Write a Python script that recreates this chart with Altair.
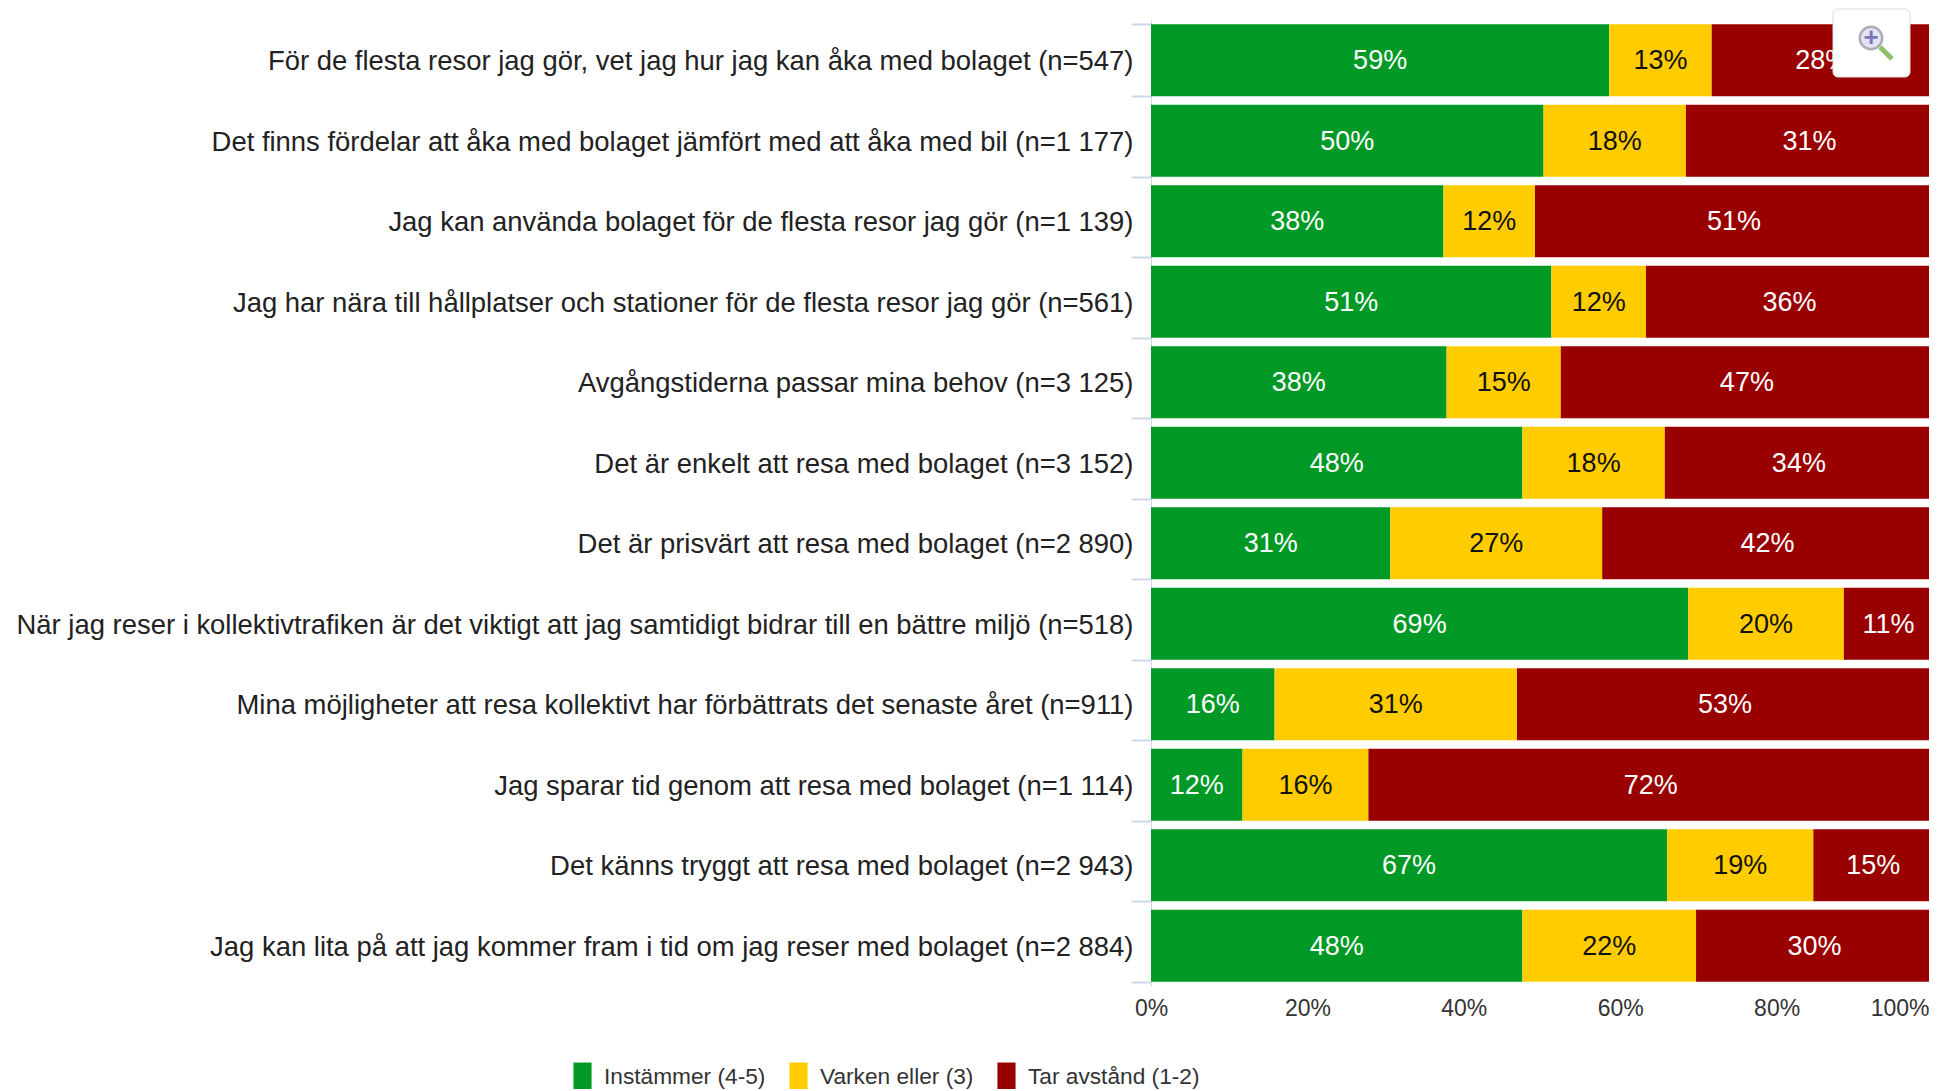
import altair as alt
import pandas as pd

labels = [
    "För de flesta resor jag gör, vet jag hur jag kan åka med bolaget (n=547)",
    "Det finns fördelar att åka med bolaget jämfört med att åka med bil (n=1 177)",
    "Jag kan använda bolaget för de flesta resor jag gör (n=1 139)",
    "Jag har nära till hållplatser och stationer för de flesta resor jag gör (n=561)",
    "Avgångstiderna passar mina behov (n=3 125)",
    "Det är enkelt att resa med bolaget (n=3 152)",
    "Det är prisvärt att resa med bolaget (n=2 890)",
    "När jag reser i kollektivtrafiken är det viktigt att jag samtidigt bidrar till en bättre miljö (n=518)",
    "Mina möjligheter att resa kollektivt har förbättrats det senaste året (n=911)",
    "Jag sparar tid genom att resa med bolaget (n=1 114)",
    "Det känns tryggt att resa med bolaget (n=2 943)",
    "Jag kan lita på att jag kommer fram i tid om jag reser med bolaget (n=2 884)",
]
green = [58.6, 50.2, 37.4, 51.2, 37.8, 47.5, 30.6, 68.7, 15.8, 11.7, 66.0, 47.5]
yellow = [13.1, 18.2, 11.7, 12.1, 14.6, 18.2, 27.1, 19.9, 31.0, 16.1, 18.7, 22.2]
red = [28.3, 31.6, 50.9, 36.7, 47.6, 34.3, 42.3, 11.4, 53.2, 72.2, 15.3, 30.3]
green_txt = [59, 50, 38, 51, 38, 48, 31, 69, 16, 12, 67, 48]
yellow_txt = [13, 18, 12, 12, 15, 18, 27, 20, 31, 16, 19, 22]
red_txt = [28, 31, 51, 36, 47, 34, 42, 11, 53, 72, 15, 30]
series = ["Instämmer (4-5)", "Varken eller (3)", "Tar avstånd (1-2)"]
colors = ["#009926", "#ffcc00", "#990000"]
text_colors = ["#ffffff", "#111111", "#ffffff"]
x_ticks = [0, 20, 40, 60, 80, 100]

rows = []
for i, lab in enumerate(labels):
    start = 0.0
    for s, vals, txt in zip(series, (green, yellow, red), (green_txt, yellow_txt, red_txt)):
        end = start + vals[i]
        rows.append({"label": lab, "series": s, "start": start, "end": end,
                     "mid": (start + end) / 2, "txt": f"{txt[i]}%"})
        start = end
df = pd.DataFrame(rows)

FONT = "Liberation Sans"
y = alt.Y("label:N", sort=labels, title=None,
          scale=alt.Scale(paddingInner=0.105, paddingOuter=0.0525),
          axis=alt.Axis(labelFont=FONT, labelFontSize=27.45, labelColor="#222222", labelLimit=1300,
                        domainColor="#ccd6eb", tickColor="#ccd6eb", tickBand="extent",
                        tickSize=20, tickWidth=2, labelPadding=-2, labelOverlap=False,
                        labelOffset=1.5))
x = alt.X("start:Q", title=None,
          scale=alt.Scale(domain=[0, 100], nice=False),
          axis=alt.Axis(values=x_ticks, labelExpr="datum.value + '%'", grid=False, ticks=False,
                        domain=False, labelFont=FONT, labelFontSize=23, labelColor="#333333",
                        labelPadding=11, labelOverlap=False,
                        labelOffset=alt.expr("datum.value == 100 ? -4 : 0"),
                        labelAlign=alt.expr("datum.value == 100 ? 'right' : 'center'")))

bars = alt.Chart(df).mark_bar(strokeWidth=0).encode(
    y=y, x=x, x2="end:Q",
    color=alt.Color("series:N", sort=series, title=None,
                    scale=alt.Scale(domain=series, range=colors),
                    legend=alt.Legend(orient="none", legendX=-583, legendY=1042, padding=0,
                                      direction="horizontal", columns=3,
                                      symbolType="M-0.64,-1H0.64V1H-0.64Z", symbolSize=800,
                                      symbolStrokeWidth=0, labelFont=FONT, labelFontSize=22.7,
                                      labelLimit=300,
                                      labelColor="#333333", labelOffset=7, columnPadding=18)),
)
text = alt.Chart(df).mark_text(font=FONT, fontSize=27, baseline="middle", align="center", dy=1).encode(
    y=alt.Y("label:N", sort=labels),
    x=alt.X("mid:Q"),
    text="txt:N",
    color=alt.Color("series:N", scale=alt.Scale(domain=series, range=text_colors), legend=None),
)

# zoom button
button_df = pd.DataFrame({"k": [1]})
button = alt.Chart(button_df).mark_rect(fill="#ffffff", stroke="#dddddd", cornerRadius=5).encode(
    x=alt.value(682), x2=alt.value(759), y=alt.value(-11), y2=alt.value(57))
lens = alt.Chart(button_df).mark_point(shape="circle", size=500, filled=True, fill="#d9d9ee",
                                       stroke="#8a8a99", strokeWidth=2.5).encode(
    x=alt.value(720), y=alt.value(18))
plus = alt.Chart(button_df).mark_text(text="+", font=FONT, fontSize=26, fontWeight="bold",
                                      color="#7a76b8", baseline="middle").encode(
    x=alt.value(720), y=alt.value(18))
handle = alt.Chart(button_df).mark_rule(color="#8fc06a", strokeWidth=5).encode(
    x=alt.value(729), x2=alt.value(741), y=alt.value(27), y2=alt.value(39))

chart = alt.layer(bars, text, button, lens, handle, plus).resolve_scale(color="independent").properties(
    width=782, height=966,
    autosize=alt.AutoSizeParams(type="none"),
    padding={"left": 1143, "top": 12, "right": -4, "bottom": 103},
).configure_view(stroke=None)

chart.save("out.html", embed_options={"renderer": "svg", "actions": False})
